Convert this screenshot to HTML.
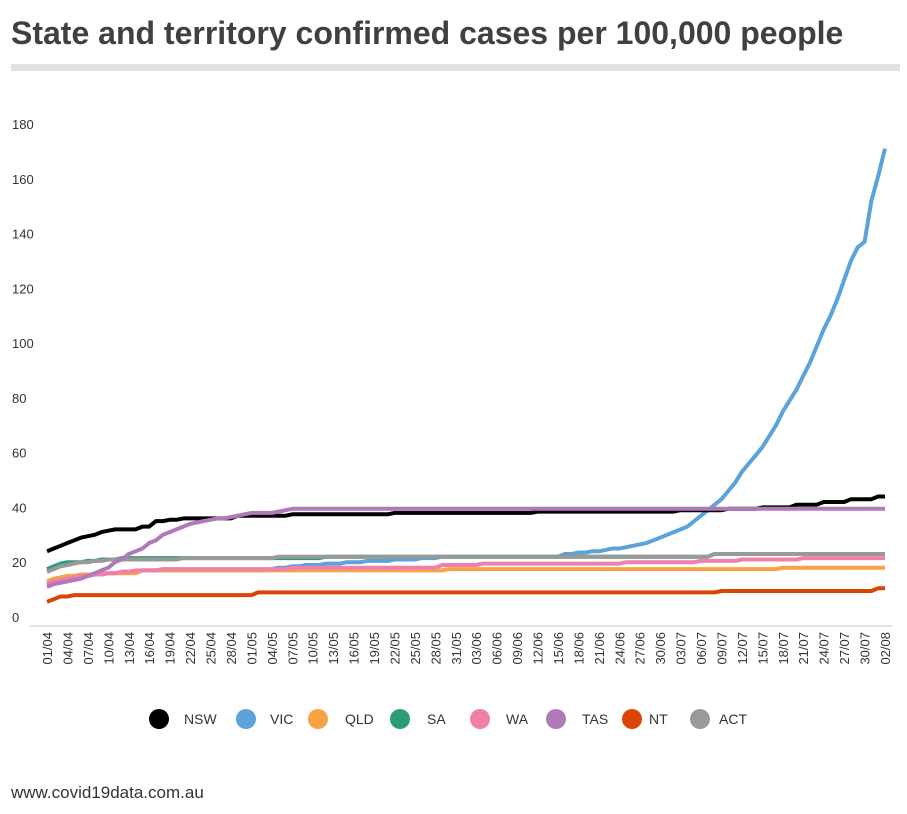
<!DOCTYPE html>
<html><head><meta charset="utf-8"><style>
body{margin:0;background:#fff;width:907px;height:809px;overflow:hidden;font-family:"Liberation Sans",sans-serif}
</style></head><body>
<svg width="907" height="809" xmlns="http://www.w3.org/2000/svg">
<text x="11" y="44" font-size="32" font-weight="bold" fill="#404040">State and territory confirmed cases per 100,000 people</text>
<rect x="11" y="64" width="889" height="7" fill="#e2e2e2"/>
<line x1="30" y1="626" x2="892" y2="626" stroke="#d9d9d9" stroke-width="1.5"/>
<g id="yt"></g><g id="xt"></g><g id="lines"></g><g id="legend"></g>
<text x="11" y="798" font-size="17" fill="#333">www.covid19data.com.au</text>
</svg>
<script>
function runs(r){const o=[];r.forEach(p=>{for(let i=0;i<p[1];i++)o.push(p[0]);});return o;}
const seriesNames=["NSW","VIC","QLD","SA","WA","TAS","NT","ACT"];
const seriesColors=["#000000","#5ba3d9","#f7a345","#2a9d78","#f07fac","#b07ab8","#d94505","#999999"];
const yTicks=[0,20,40,60,80,100,120,140,160,180];
const nsw=runs([[24,1],[25,1],[26,1],[27,1],[28,1],[29,1],[29.5,1],[30,1],[31,1],[31.5,1],[32,4],[33,2],[35,2],[35.5,2],[36,8],[37,8],[37.5,15],[38,21],[38.5,21],[39,7],[39.5,5],[40,5],[41,4],[42,4],[43,4],[44,2]]);
const vic=[12,13,13.5,14,14.5,15,15,15.5,15.5,16,16,16.5,16.5,16.5,17,17,17,17,17,17,17,17,17,17,17,17,17,17,17,17,
17,17,17,17.5,18,18,18.5,18.5,19,19,19,19.5,19.5,19.5,20,20,20,20.5,20.5,20.5,20.5,21,21,21,21,21.5,21.5,21.5,22,22,22,
22,22,22,22,22,22,22,22,22,22,22,22,22,22,22,23,23,23.5,23.5,24,24,24.5,25,25,25.5,26,26.5,27,28,29,
30,31,32,33,35,37,39,41,43,46,49,53,56,59,62,66,70,75,79,83,88,93,99,105,110,116,123,130,135,137,152,161,171];
const qld=runs([[13,1],[14,1],[14.5,1],[15,2],[15.5,3],[16,6],[17,45],[17.5,49],[18,16]]);
const sa=runs([[17.5,1],[18.5,1],[19.5,1],[20,3],[20.5,2],[21,3],[21.5,30],[22,57],[23,26]]);
const wa=runs([[12,1],[13,1],[13.5,1],[14,1],[14.5,1],[15,2],[15.5,2],[16,2],[16.5,2],[17,4],[17.5,19],[18,22],[19,6],[19.5,21],[20,11],[20.5,6],[21,9],[21.5,13]]);
const tas=runs([[11,1],[12,1],[12.5,1],[13,1],[13.5,1],[14,1],[15,1],[16,1],[17,1],[18,1],[20,1],[21,1],[23,1],[24,1],[25,1],[27,1],[28,1],[30,1],[31,1],[32,1],[33,1],[34,1],[34.5,1],[35,1],[35.5,1],[36,2],[36.5,1],[37,1],[37.5,1],[38,4],[38.5,1],[39,1],[39.5,88]]);
const nt=runs([[5.5,1],[6.5,1],[7.5,2],[8,27],[9,68],[9.5,23],[10.5,2]]);
const act=runs([[16.5,1],[17.5,1],[18.5,1],[19,1],[19.5,1],[20,2],[20.5,2],[21,11],[21.5,14],[22,64],[23,26]]);
const seriesValues=[nsw,vic,qld,sa,wa,tas,nt,act];
const start=new Date(2020,3,1);const nDays=124;
const dateLabels=[];for(let i=0;i<nDays;i+=3){const d=new Date(start.getTime()+i*864e5+36e5);dateLabels.push(String(d.getDate()).padStart(2,'0')+'/'+String(d.getMonth()+1).padStart(2,'0'));}
const X=i=>47+i*(838/123), Y=v=>617-v*(493/180);
const NS='http://www.w3.org/2000/svg';
function mk(t,a,p){const e=document.createElementNS(NS,t);for(const k in a)e.setAttribute(k,a[k]);p.appendChild(e);return e;}
const yt=document.getElementById('yt');
yTicks.forEach(v=>{const t=mk('text',{x:12,y:Y(v)+5,'font-size':13,fill:'#333'},yt);t.textContent=v;

});
const xt=document.getElementById('xt');
dateLabels.forEach((l,k)=>{const x=X(k*3)+5;const t=mk('text',{x:0,y:0,'font-size':13,fill:'#333','text-anchor':'end',transform:`translate(${x},632) rotate(-90)`},xt);t.textContent=l;

});
const lg=document.getElementById('lines');
[1,3,7,0,2,4,6,5].forEach(s=>{const d=seriesValues[s].map((v,i)=>(i?'L':'M')+X(i).toFixed(1)+','+Y(v).toFixed(1)).join('');
const p=mk('path',{d:d,fill:'none',stroke:seriesColors[s],'stroke-width':4,'stroke-linejoin':'round'},lg);

});
const leg=document.getElementById('legend');
const lx=[159,246,318,400,480,556,632,700],tx=[184,270,345,427,506,582,649,719];
seriesNames.forEach((n,i)=>{const g=mk('g',{},leg);


mk('circle',{cx:lx[i],cy:719,r:10,fill:seriesColors[i]},g);
const t=mk('text',{x:tx[i],y:724,'font-size':14,fill:'#333'},g);t.textContent=n;});
</script>
</body></html>
